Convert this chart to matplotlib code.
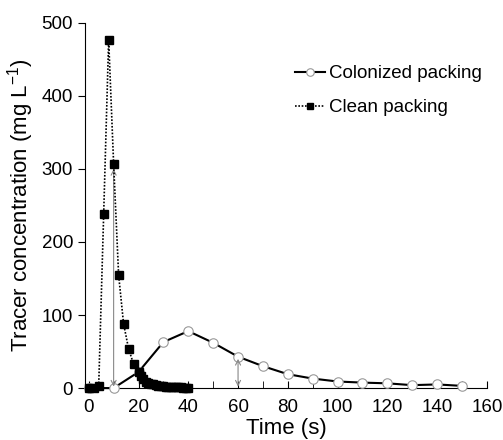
import matplotlib.pyplot as plt
import numpy as np

plt.rcParams['font.family'] = ['Liberation Sans', 'DejaVu Sans']

# Colonized packing (open circles)
col_t = [0, 10, 20, 30, 40, 50, 60, 70, 80, 90, 100, 110, 120, 130, 140, 150]
col_c = [0, 0, 22, 63, 78, 62, 43, 30, 19, 13, 9, 7.5, 6.5, 4, 5, 3]

# Clean packing (filled squares)
clean_t = [0, 2, 4, 6, 8, 10, 12, 14, 16, 18, 20, 21, 22, 23, 24, 25, 26, 27,
           28, 29, 30, 31, 32, 33, 34, 35, 36, 37, 38, 39, 40]
clean_c = [0, 0, 2.5, 238, 477, 307, 155, 88, 54, 33, 22, 16, 12, 9, 7, 6, 5, 4,
           3.5, 3, 2.5, 2, 2, 1.5, 1.5, 1, 1, 1, 0.5, 0.5, 0.5]

# double arrows (x, top y)
arrows = [(10, 300), (60, 40)]

fig = plt.figure(figsize=(5.03, 4.4), dpi=100)
ax = fig.add_axes([0.169, 0.118, 0.799, 0.83])

ax.plot(col_t, col_c, color='black', linestyle='-', linewidth=1.5,
        marker='o', markersize=6.8, markerfacecolor='white', markeredgecolor='#999999',
        markeredgewidth=0.8, label='Colonized packing', clip_on=False, zorder=3)
ax.plot(clean_t, clean_c, color='black', linestyle=(0, (1, 1)), linewidth=1.2,
        marker='s', markersize=5.3, markerfacecolor='black', markeredgecolor='black',
        label='Clean packing', clip_on=False, zorder=4)

for x, y in arrows:
    ax.annotate('', xy=(x, y), xytext=(x, 2),
                arrowprops=dict(arrowstyle='<->', color='#888888', lw=0.8,
                                shrinkA=0, shrinkB=0, mutation_scale=9))

ax.set_xlim(-1.5, 160)
ax.set_ylim(0, 500)
ax.set_xticks(np.arange(0, 161, 20))
ax.set_xticks(np.arange(0, 161, 10), minor=True)
ax.set_yticks(np.arange(0, 501, 100))
ax.tick_params(axis='x', which='both', direction='in', length=5, labelsize=13.5, pad=8)
ax.tick_params(axis='y', direction='out', length=5, labelsize=13.5)
ax.spines['top'].set_visible(False)
ax.spines['right'].set_visible(False)
ax.set_xlabel('Time (s)', fontsize=16, labelpad=1)
ax.set_ylabel('Tracer concentration (mg L$\\mathregular{^{-1}}$)', fontsize=16)

ax.legend(loc='upper left', bbox_to_anchor=(0.48, 0.93), frameon=False,
          fontsize=13.5, handlelength=1.6, handletextpad=0.2, labelspacing=0.9,
          markerscale=0.8)

fig.savefig('out.png', dpi=100)
